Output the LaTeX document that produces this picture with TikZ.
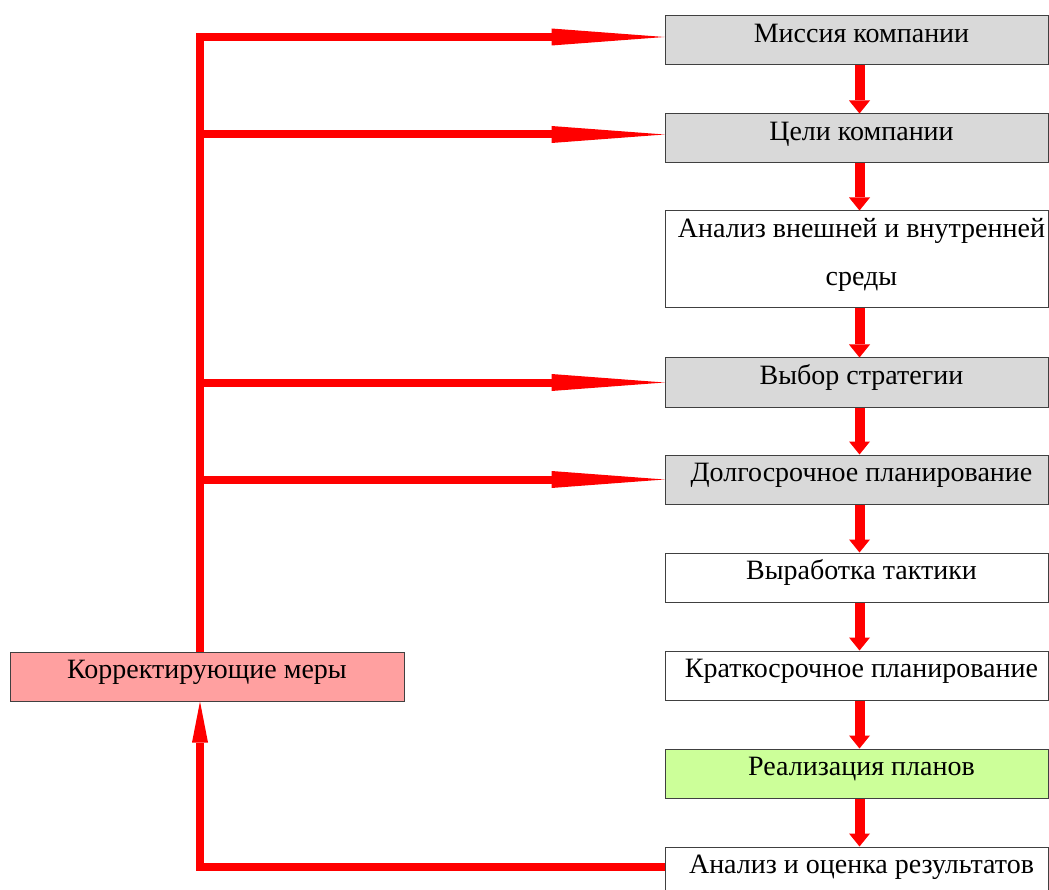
\documentclass[tikz,border=0pt]{standalone}
\usepackage{fontspec}
\setmainfont{Liberation Serif}
\usetikzlibrary{arrows.meta}
\definecolor{boxgray}{HTML}{D9D9D9}
\definecolor{boxpink}{HTML}{FFA0A0}
\definecolor{boxgreen}{HTML}{CCFF99}
\definecolor{edgegray}{HTML}{404040}
\definecolor{arrred}{HTML}{FF0000}
\begin{document}
\begin{tikzpicture}[x=1pt,y=-1pt,
  stage/.style={draw=edgegray, line width=1pt, minimum width=383pt, inner sep=0pt,
    text height=26.7pt, text depth=22.3pt, text=black,
    font=\fontsize{28pt}{47.5pt}\selectfont},
  hlink/.style={draw=arrred, line width=8pt, line join=miter,
    -{Triangle[length=113pt,width=17pt,line width=0pt]}},
  vlink/.style={draw=arrred, line width=10pt,
    -{Triangle[length=13pt,width=21pt,line width=0pt]}},
  flink/.style={draw=arrred, line width=7.5pt, line join=miter,
    -{Triangle[length=41pt,width=16pt,line width=0pt]}}
]
\useasboundingbox (0,0) rectangle (1049,890);

\node[stage, fill=boxgray]  (m1) at (856.5,40.5)  {\hspace*{10pt}Миссия компании};
\node[stage, fill=boxgray]  (m2) at (856.5,138.5) {\hspace*{10pt}Цели компании};
\node[stage, fill=white, text width=383pt, align=flush center, text depth=70.3pt]
  (m3) at (856.5,259.5) {\hspace*{10pt}Анализ внешней и внутренней\\\hspace*{10pt}среды};
\node[stage, fill=boxgray]  (m4) at (856.5,382.5) {\hspace*{10pt}Выбор стратегии};
\node[stage, fill=boxgray]  (m5) at (856.5,479.5) {\hspace*{10pt}Долгосрочное планирование};
\node[stage, fill=white]    (m6) at (856.5,577.5) {\hspace*{10pt}Выработка тактики};
\node[stage, fill=white]    (m7) at (856.5,675.5) {\hspace*{10pt}Краткосрочное планирование};
\node[stage, fill=boxgreen] (m8) at (856.5,773.5) {\hspace*{10pt}Реализация планов};
\node[stage, fill=white]    (m9) at (856.5,871.5) {\hspace*{10pt}Анализ и оценка результатов};

\node[stage, fill=boxpink, minimum width=394pt] (kor) at (207,676.5) {Корректирующие меры};

\coordinate (ax) at (859.5,0);
\coordinate (tr) at (200,0);

\foreach \a/\b in {m1/m2,m2/m3,m3/m4,m4/m5,m5/m6,m6/m7,m7/m8,m8/m9}
  \draw[vlink] (\a.south -| ax) -- (\b.north -| ax);

\coordinate (h1) at ([yshift=3.5pt]m1.west);
\coordinate (h2) at ([yshift=4pt]m2.west);
\coordinate (h4) at (m4.west);
\coordinate (h5) at (m5.west);

\draw[hlink] (kor.north -| tr) -- (tr |- h1) -- (h1);
\draw[hlink] (tr |- h2) -- (h2);
\draw[hlink] (tr |- h4) -- (h4);
\draw[hlink] (tr |- h5) -- (h5);

\coordinate (f9) at ([yshift=4.5pt]m9.west);
\draw[flink] (f9) -| (kor.south -| tr);
\end{tikzpicture}
\end{document}
